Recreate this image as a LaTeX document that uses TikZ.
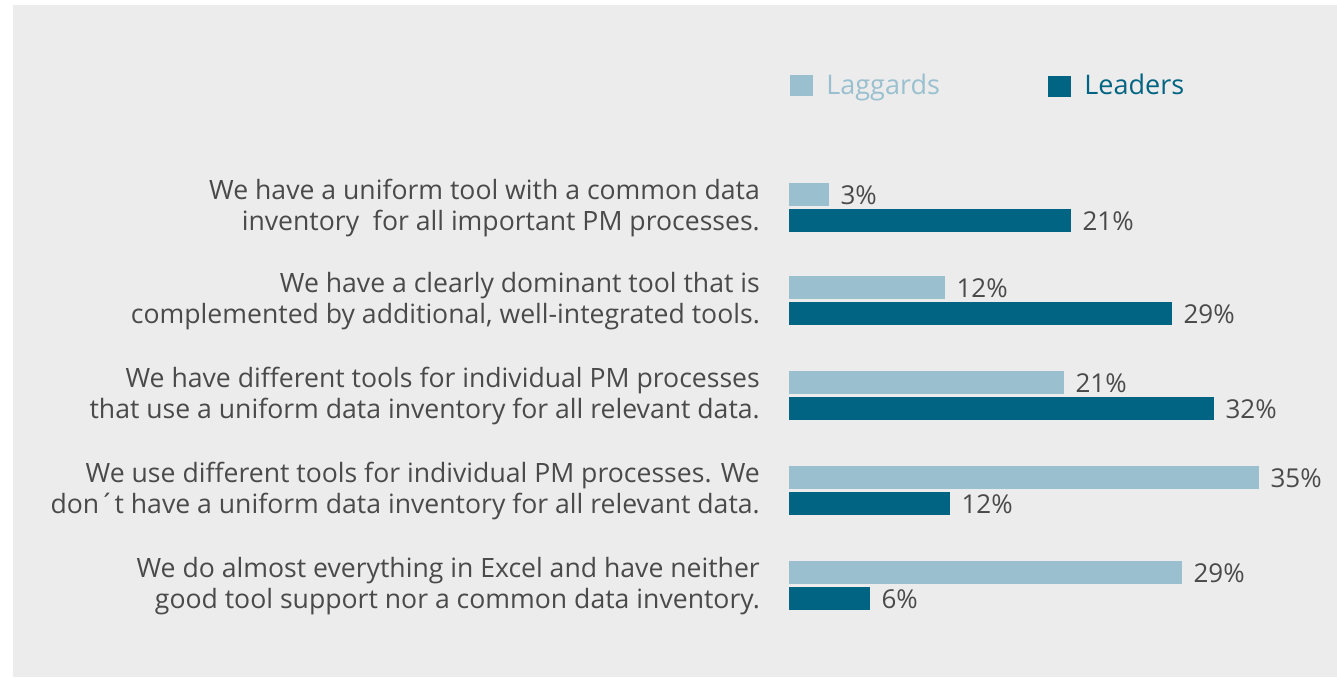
\documentclass[tikz,border=0pt]{standalone}
\usepackage{fontspec}
\setmainfont{Open Sans}
\usetikzlibrary{positioning}
\definecolor{bggray}{HTML}{ECECEC}
\definecolor{laggard}{HTML}{9AC0CF}
\definecolor{leader}{HTML}{006482}
\definecolor{txtgray}{HTML}{4A4A4A}
\begin{document}
\begin{tikzpicture}[x=1pt,y=-1pt]
            % Estilos
            \tikzstyle{lagbar}=[rectangle, fill=laggard, minimum height=23pt, inner sep=0pt, anchor=west]
            \tikzstyle{leadbar}=[rectangle, fill=leader, minimum height=23pt, inner sep=0pt, anchor=west]
            \tikzstyle{pct}=[text=txtgray, font=\fontsize{26}{30}\selectfont, inner sep=0pt, yshift=-1pt]
            \tikzstyle{question}=[text=txtgray, font=\fontsize{26.6}{31}\selectfont, align=right, anchor=east, inner sep=0pt]
            \tikzstyle{legendkey}=[rectangle, minimum width=23pt, minimum height=21pt, inner sep=0pt]
            \tikzstyle{legendtext}=[font=\fontsize{27}{32}\selectfont, inner sep=0pt]

            % Fondo
            \useasboundingbox (0,0) rectangle (1337,677);
            \fill[bggray] (13,5) rectangle (1337,677);

            % Leyenda
            \node[legendkey, fill=laggard] (keylag) at (801.5,85.5) {};
            \node[legendtext, text=laggard, right=13pt of keylag, anchor=base west, yshift=-8.5pt] (txtlag) {Laggards};
            \node[legendkey, fill=leader] (keylead) at (1059.5,86.5) {};
            \node[legendtext, text=leader, right=13pt of keylead, anchor=base west, yshift=-7.5pt] (txtlead) {Leaders};

            % Barras
            \node[lagbar, minimum width=40pt] (lag1) at (789,194.5) {};
            \node[leadbar, minimum width=282pt] (lead1) at (789,220.5) {};
            \node[lagbar, minimum width=156pt] (lag2) at (789,287.5) {};
            \node[leadbar, minimum width=383pt] (lead2) at (789,313.5) {};
            \node[lagbar, minimum width=275pt] (lag3) at (789,382.5) {};
            \node[leadbar, minimum width=425pt] (lead3) at (789,408.5) {};
            \node[lagbar, minimum width=470pt] (lag4) at (789,477.5) {};
            \node[leadbar, minimum width=161pt] (lead4) at (789,503.5) {};
            \node[lagbar, minimum width=393pt] (lag5) at (789,572.5) {};
            \node[leadbar, minimum width=81pt] (lead5) at (789,598.5) {};

            % Porcentajes
            \node[pct, right=11pt of lag1] (plag1) {3\%};
            \node[pct, right=11pt of lead1] (plead1) {21\%};
            \node[pct, right=11pt of lag2] (plag2) {12\%};
            \node[pct, right=11pt of lead2] (plead2) {29\%};
            \node[pct, right=11pt of lag3] (plag3) {21\%};
            \node[pct, right=11pt of lead3] (plead3) {32\%};
            \node[pct, right=11pt of lag4] (plag4) {35\%};
            \node[pct, right=11pt of lead4] (plead4) {12\%};
            \node[pct, right=11pt of lag5] (plag5) {29\%};
            \node[pct, right=11pt of lead5] (plead5) {6\%};

            % Preguntas
            \node[question] (q1) at (760,208) {We have a uniform tool with a common data\\inventory \ for all important PM processes.};
            \node[question] (q2) at (760,301) {We have a clearly dominant tool that is\\complemented by additional, well-integrated tools.};
            \node[question] (q3) at (760,396) {We have different tools for individual PM processes\\that use a uniform data inventory for all relevant data.};
            \node[question] (q4) at (760,491) {We use different tools for individual PM processes. We\\don´t have a uniform data inventory for all relevant data.};
            \node[question] (q5) at (760,586) {We do almost everything in Excel and have neither\\good tool support nor a common data inventory.};
      \end{tikzpicture}
\end{document}
